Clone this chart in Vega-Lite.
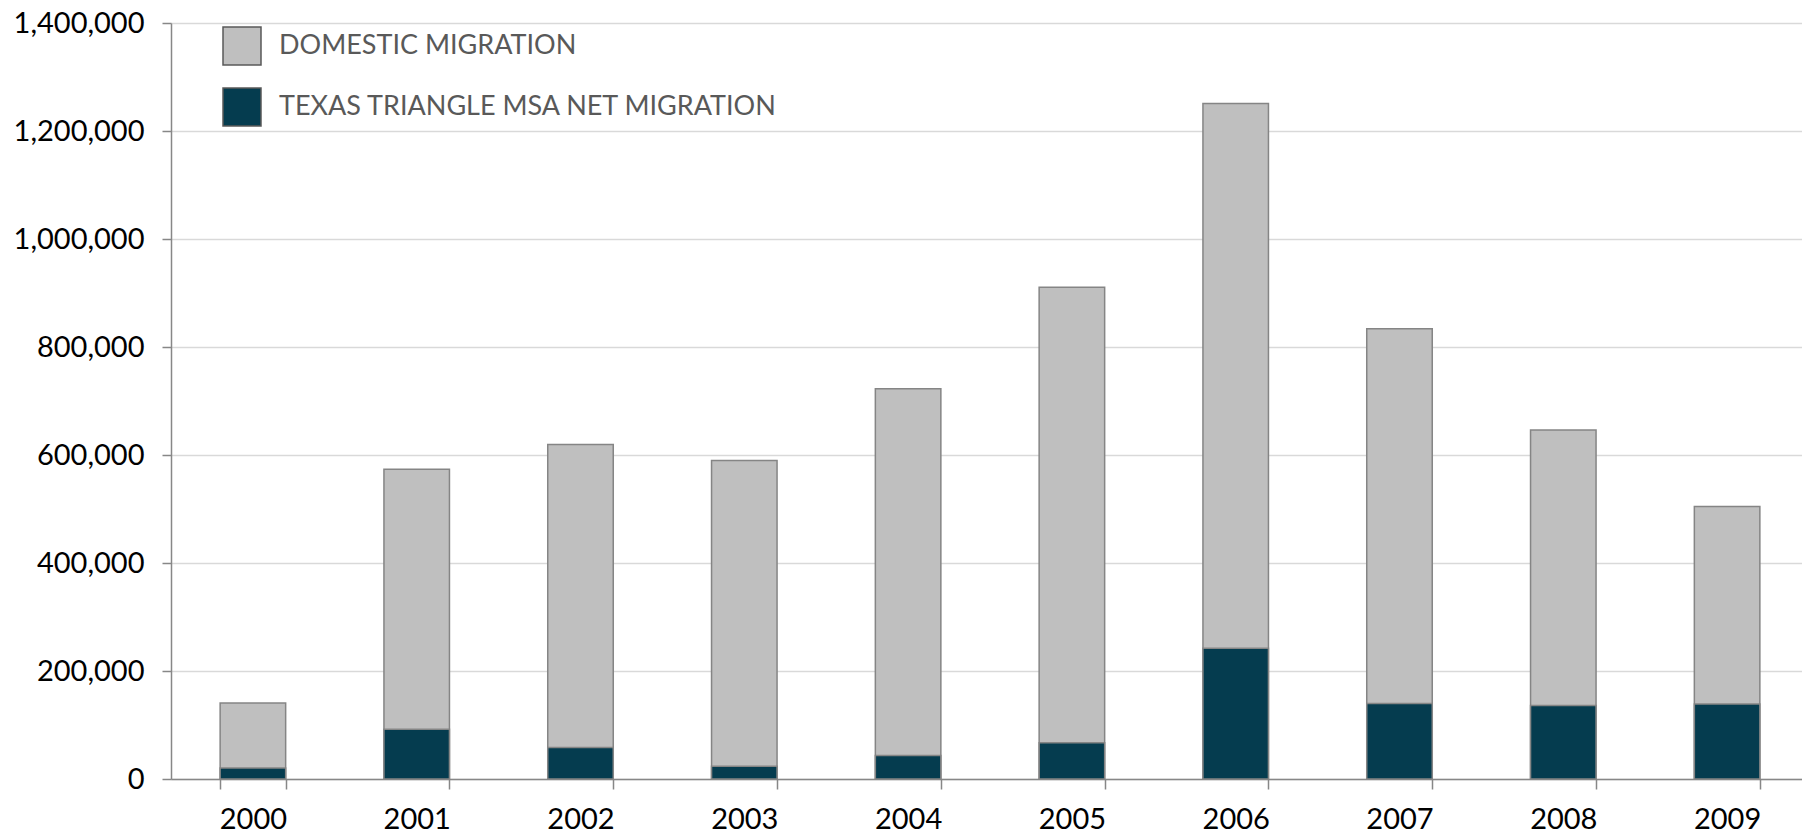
{
  "$schema": "https://vega.github.io/schema/vega-lite/v6.json",
  "width": 1631,
  "height": 756,
  "autosize": {"type": "none"},
  "padding": {"left": 171, "top": 23, "right": 0, "bottom": 53},
  "background": "white",
  "config": {
    "view": {"stroke": null},
    "font": "Lato"
  },
  "data": {
    "values": [
      {"year": "2000", "series": "DOMESTIC MIGRATION", "value": 140800},
      {"year": "2001", "series": "DOMESTIC MIGRATION", "value": 573800},
      {"year": "2002", "series": "DOMESTIC MIGRATION", "value": 619500},
      {"year": "2003", "series": "DOMESTIC MIGRATION", "value": 590000},
      {"year": "2004", "series": "DOMESTIC MIGRATION", "value": 722500},
      {"year": "2005", "series": "DOMESTIC MIGRATION", "value": 910800},
      {"year": "2006", "series": "DOMESTIC MIGRATION", "value": 1251000},
      {"year": "2007", "series": "DOMESTIC MIGRATION", "value": 834000},
      {"year": "2008", "series": "DOMESTIC MIGRATION", "value": 646500},
      {"year": "2009", "series": "DOMESTIC MIGRATION", "value": 504500},
      {"year": "2000", "series": "TEXAS TRIANGLE MSA NET MIGRATION", "value": 20500},
      {"year": "2001", "series": "TEXAS TRIANGLE MSA NET MIGRATION", "value": 92300},
      {"year": "2002", "series": "TEXAS TRIANGLE MSA NET MIGRATION", "value": 58200},
      {"year": "2003", "series": "TEXAS TRIANGLE MSA NET MIGRATION", "value": 23500},
      {"year": "2004", "series": "TEXAS TRIANGLE MSA NET MIGRATION", "value": 43300},
      {"year": "2005", "series": "TEXAS TRIANGLE MSA NET MIGRATION", "value": 66900},
      {"year": "2006", "series": "TEXAS TRIANGLE MSA NET MIGRATION", "value": 242000},
      {"year": "2007", "series": "TEXAS TRIANGLE MSA NET MIGRATION", "value": 139900},
      {"year": "2008", "series": "TEXAS TRIANGLE MSA NET MIGRATION", "value": 136200},
      {"year": "2009", "series": "TEXAS TRIANGLE MSA NET MIGRATION", "value": 138700}
    ]
  },
  "mark": {"type": "bar", "stroke": "#858585", "strokeWidth": 1.5},
  "encoding": {
    "x": {
      "field": "year",
      "type": "nominal",
      "sort": null,
      "scale": {"range": [0, 1638], "paddingInner": 0.6, "paddingOuter": 0.3},
      "axis": {
        "title": null,
        "labelAngle": 0,
        "labelFont": "Lato",
        "labelFontSize": 29,
        "labelColor": "#000000",
        "labelPadding": 16,
        "tickBand": "extent",
        "tickSize": 10,
        "tickColor": "#878787",
        "tickWidth": 1.5,
        "domainColor": "#878787",
        "domainWidth": 1.5,
        "grid": false
      }
    },
    "y": {
      "field": "value",
      "type": "quantitative",
      "stack": null,
      "scale": {"domain": [0, 1400000], "nice": false},
      "axis": {
        "title": null,
        "values": [0, 200000, 400000, 600000, 800000, 1000000, 1200000, 1400000],
        "format": ",d",
        "labelFont": "Lato",
        "labelFontSize": 29,
        "labelColor": "#000000",
        "labelPadding": 18,
        "tickSize": 9,
        "tickColor": "#878787",
        "tickWidth": 1.5,
        "domainColor": "#878787",
        "domainWidth": 1.5,
        "grid": true,
        "gridColor": "#d9d9d9",
        "gridWidth": 1.5
      }
    },
    "color": {
      "field": "series",
      "type": "nominal",
      "scale": {
        "domain": ["DOMESTIC MIGRATION", "TEXAS TRIANGLE MSA NET MIGRATION"],
        "range": ["#bfbfbf", "#053c4f"]
      },
      "legend": {
        "title": null,
        "orient": "none",
        "legendX": 51,
        "legendY": 3,
        "padding": 0,
        "symbolType": "square",
        "symbolSize": 1444,
        "symbolStrokeColor": "#595959",
        "symbolStrokeWidth": 1.5,
        "symbolOpacity": 1,
        "labelFont": "Lato",
        "labelFontSize": 27,
        "labelColor": "#595959",
        "labelOffset": 17,
        "labelLimit": 0,
        "rowPadding": 17
      }
    }
  }
}
